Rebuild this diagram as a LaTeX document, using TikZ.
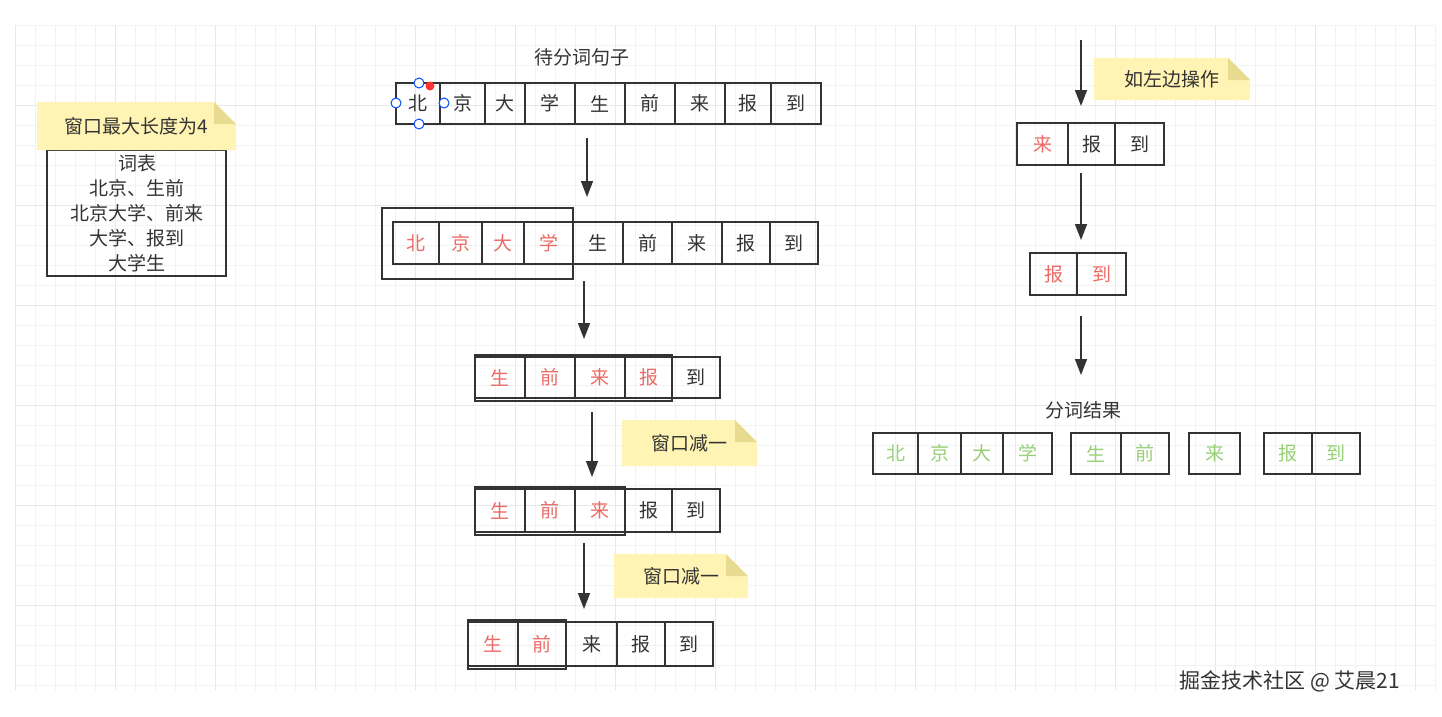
\documentclass[tikz,border=0pt]{standalone}
\usepackage{fontspec}
\setmainfont{Noto Sans CJK SC}
\usetikzlibrary{arrows.meta}
\definecolor{txt}{HTML}{333333}
\definecolor{redt}{HTML}{EA6B66}
\definecolor{greent}{HTML}{97D077}
\definecolor{notey}{HTML}{FFF4B3}
\definecolor{notef}{HTML}{E8DA8E}
\tikzset{
 cellb/.style={draw=txt,line width=1.5pt},
 arr/.style={draw=txt,line width=1.5pt,-{Triangle[length=16pt,width=12pt]}},
 lbl/.style={text=txt,font=\fontsize{19}{22}\selectfont,inner sep=0},
}
\begin{document}
\begin{tikzpicture}[x=1pt,y=-1pt]
\fill[white] (0,0) rectangle (1442,716);
\useasboundingbox (0,0) rectangle (1442,716);
% grid
\foreach \x in {15,35,...,1435} \draw[black!5,line width=0.6pt] (\x,25) -- (\x,690);
\foreach \y in {25,45,...,690} \draw[black!5,line width=0.6pt] (15,\y) -- (1435,\y);
\foreach \x in {15,115,...,1435} \draw[black!9,line width=1pt] (\x,25) -- (\x,690);
\foreach \y in {105,205,...,690} \draw[black!9,line width=1pt] (15,\y) -- (1435,\y);
\def\row#1#2#3{\foreach \a/\b/\c/\col [count=\i] in {#3}{
  \draw[cellb] (\a,#1) rectangle (\b,#2);
  \node[lbl,text=\col] (c#1x\i) at ({(\a+\b)/2},{(#1+#2)/2}) {\c};}}
% left note + table
\draw[cellb] (47,150) rectangle (226,276);
\node[lbl,align=center,font=\fontsize{19}{25}\selectfont] (table) at (137,213) {词表\\北京、生前\\北京大学、前来\\大学、报到\\大学生};
\def\note#1#2#3#4#5{\fill[notey] (#1,#2) -- ({#3-22},#2) -- (#3,{#2+22}) -- (#3,#4) -- (#1,#4) -- cycle;
 \fill[notef] ({#3-22},#2) -- (#3,{#2+22}) -- ({#3-22},{#2+22}) -- cycle;
 \node[lbl] at ({(#1+#3)/2},{(#2+#4)/2}) {#5};}
\note{37}{102}{236}{150}{窗口最大长度为4}
% title
\node[lbl] (title) at (582,57) {待分词句子};
\row{83}{124}{396/440/北/txt,440/485/京/txt,485/525/大/txt,525/575/学/txt,575/625/生/txt,625/675/前/txt,675/725/来/txt,725/771/报/txt,771/821/到/txt}
\foreach \p in {(419,83),(396,103),(444,103),(419,124)} \draw[blue!70!cyan,line width=1pt,fill=white] \p circle (5pt);
\fill[red!80] (430,86) circle (4.5pt);
\row{222}{264}{393/439/北/redt,439/482/京/redt,482/524/大/redt,524/573/学/redt,573/623/生/txt,623/672/前/txt,672/722/来/txt,722/770/报/txt,770/818/到/txt}
\draw[cellb] (382,208) rectangle (573,279);
\row{357}{398}{475/525/生/redt,525/575/前/redt,575/625/来/redt,625/672/报/redt,672/720/到/txt}
\draw[cellb] (475,355) rectangle (672,401);
\row{489}{532}{475/525/生/redt,525/575/前/redt,575/625/来/redt,625/672/报/txt,672/720/到/txt}
\draw[cellb] (475,487) rectangle (625,535);
\row{622}{666}{468/518/生/redt,518/566/前/redt,566/617/来/txt,617/665/报/txt,665/713/到/txt}
\draw[cellb] (468,620) rectangle (566,669);
\note{622}{420}{757}{466}{窗口减一}
\note{614}{554}{748}{598}{窗口减一}
% arrows
\coordinate (a1s) at (587,138); \coordinate (a1e) at (587,197);
\coordinate (a2s) at (584,281); \coordinate (a2e) at (584,339);
\coordinate (a3s) at (592,412); \coordinate (a3e) at (592,477);
\coordinate (a4s) at (584,543); \coordinate (a4e) at (584,609);
\coordinate (b1s) at (1081,40); \coordinate (b1e) at (1081,106);
\coordinate (b2s) at (1081,173); \coordinate (b2e) at (1081,240);
\coordinate (b3s) at (1081,316); \coordinate (b3e) at (1081,375);
\foreach \n in {a1,a2,a3,a4,b1,b2,b3} \draw[arr] (\n s) -- (\n e);
% right column
\note{1094}{58}{1250}{100}{如左边操作}
\row{123}{165}{1017/1068/来/redt,1068/1115/报/txt,1115/1164/到/txt}
\row{253}{295}{1030/1077/报/redt,1077/1126/到/redt}
\node[lbl] (res) at (1083,410) {分词结果};
\row{433}{474}{873/918/北/greent,918/961/京/greent,961/1003/大/greent,1003/1052/学/greent,1071/1121/生/greent,1121/1169/前/greent,1189/1240/来/greent,1264/1312/报/greent,1312/1360/到/greent}
\node[lbl,font=\fontsize{21}{24}\selectfont] (wm) at (1290,681) {掘金技术社区 @ 艾晨21};
\end{tikzpicture}
\end{document}
